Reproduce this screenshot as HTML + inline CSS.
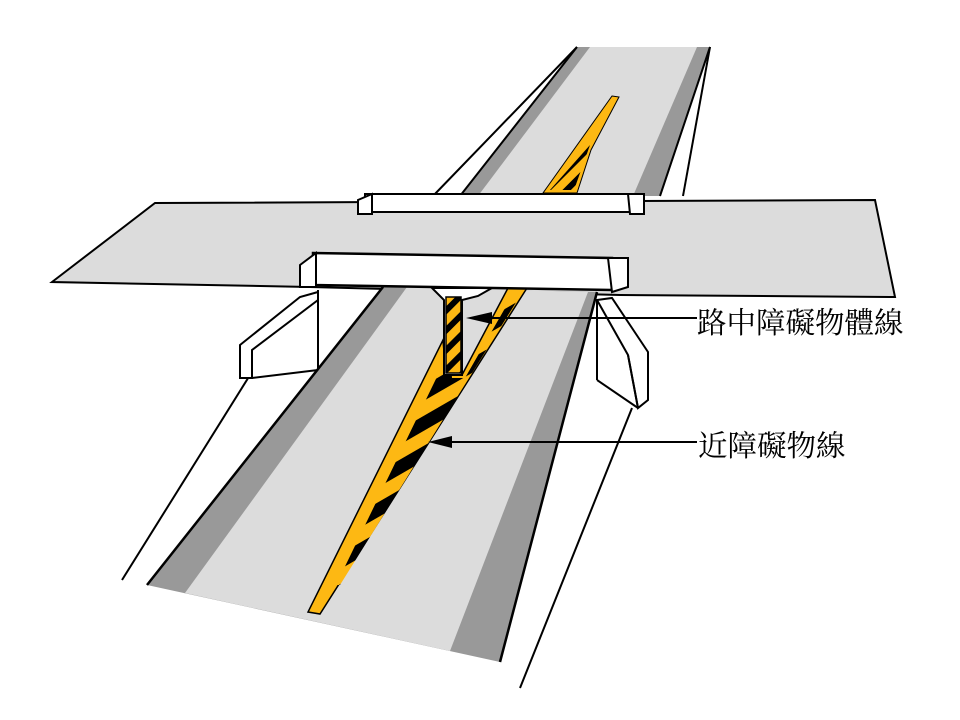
<!DOCTYPE html>
<html><head><meta charset="utf-8"><style>html,body{margin:0;padding:0;background:#fff}svg{display:block}</style></head>
<body>
<svg width="960" height="720" viewBox="0 0 960 720" xmlns="http://www.w3.org/2000/svg">
<defs>
<pattern id="str" patternUnits="userSpaceOnUse" width="26" height="26" patternTransform="rotate(-30)">
<rect width="26" height="26" fill="#fdb813"/><rect width="26" height="13" fill="#000"/>
</pattern>
<pattern id="str2" patternUnits="userSpaceOnUse" width="14" height="14" patternTransform="rotate(-45)">
<rect width="14" height="14" fill="#fdb813"/><rect width="14" height="6" fill="#000"/>
</pattern>
</defs>
<!-- cross deck -->
<polygon points="155,203 875,200 895,297 620,295 310,287 52,282" fill="#dcdcdc" stroke="#000" stroke-width="2"/>
<!-- upper road -->
<line x1="433" y1="196" x2="577" y2="47" stroke="#000" stroke-width="2"/>
<line x1="683" y1="196" x2="710" y2="47" stroke="#000" stroke-width="2"/>
<polygon points="460,196 577,47 710,47 660,196" fill="#999"/>
<polygon points="478,196 590,47 697,47 633,196" fill="#dcdcdc"/>
<line x1="460" y1="196" x2="577" y2="47" stroke="#000" stroke-width="2"/>
<line x1="660" y1="196" x2="710" y2="47" stroke="#000" stroke-width="2"/>
<polygon points="612,96 619,97 591,150 577,193 543,193" fill="#fdb813" stroke="#000" stroke-width="1"/>
<polygon points="590,145 550,190 574,190" fill="url(#str2)"/>
<!-- far rail -->
<rect x="365" y="194" width="270" height="18" fill="#fff" stroke="#000" stroke-width="2"/>
<polygon points="358,200 372,194 372,214 358,214" fill="#fff" stroke="#000" stroke-width="2"/>
<polygon points="628,194 644,194 644,214 630,214" fill="#fff" stroke="#000" stroke-width="2"/>
<!-- lower road white area / ditch -->
<polygon points="318,290 597,300 597,380 640,400 520,690 200,690 124,580 250,375 318,370" fill="#fff"/>
<line x1="122" y1="580" x2="250" y2="375" stroke="#000" stroke-width="2"/>
<line x1="520" y1="688" x2="632" y2="408" stroke="#000" stroke-width="2"/>
<line x1="318" y1="290" x2="318" y2="372" stroke="#000" stroke-width="2"/>
<line x1="597" y1="300" x2="597" y2="380" stroke="#000" stroke-width="2"/>
<!-- lower road -->
<polygon points="383,287 597,292 500,662 147,585" fill="#999"/>
<polygon points="407,287 588,292 450,651 185,593" fill="#dcdcdc"/>
<line x1="147" y1="585" x2="383" y2="287" stroke="#000" stroke-width="2.5"/>
<line x1="500" y1="662" x2="597" y2="292" stroke="#000" stroke-width="2.5"/>
<!-- yellow median -->
<polygon points="508,288 527,288 320,614 308,612 443,340 446,375 462,375" fill="#fdb813" stroke="#000" stroke-width="1.5"/>
<polygon points="512,296 520,296 340,585 336,585 450,350 452,378 465,378" fill="url(#str)"/>
<!-- pier -->
<polygon points="432,288 492,288 478,296 462,300 462,375 444,375 444,300" fill="#fff" stroke="#000" stroke-width="2"/>
<rect x="446" y="297" width="15" height="76" fill="url(#str2)" stroke="#000" stroke-width="1.5"/>
<!-- wing walls -->
<polygon points="240,345 300,297 318,292 318,300 252,350 252,378 240,378" fill="#fff" stroke="#000" stroke-width="2"/>
<line x1="252" y1="378" x2="318" y2="370" stroke="#000" stroke-width="2"/>
<polygon points="597,300 612,298 648,352 648,400 638,408 628,355" fill="#fff" stroke="#000" stroke-width="2"/>
<line x1="628" y1="355" x2="638" y2="408" stroke="#000" stroke-width="2"/>
<line x1="597" y1="380" x2="638" y2="408" stroke="#000" stroke-width="2"/>
<!-- near bridge beam -->
<polygon points="313,253 612,258 612,290 313,285" fill="#fff" stroke="#000" stroke-width="2.5"/>
<polygon points="300,265 316,253 316,287 300,287" fill="#fff" stroke="#000" stroke-width="2"/>
<polygon points="608,258 628,258 628,287 612,292" fill="#fff" stroke="#000" stroke-width="2"/>
<!-- leaders -->
<line x1="480" y1="318" x2="697" y2="318" stroke="#000" stroke-width="2"/>
<polygon points="466,318 492,312 492,324" fill="#000"/>
<line x1="440" y1="442" x2="697" y2="442" stroke="#000" stroke-width="2"/>
<polygon points="428,442 452,436 452,448" fill="#000"/>
<text x="697" y="333" font-family="'Liberation Serif','Noto Serif CJK SC',serif" font-size="29.5">路中障礙物體線</text>
<text x="698" y="456" font-family="'Liberation Serif','Noto Serif CJK SC',serif" font-size="29.5">近障礙物線</text>
</svg>
</body></html>
